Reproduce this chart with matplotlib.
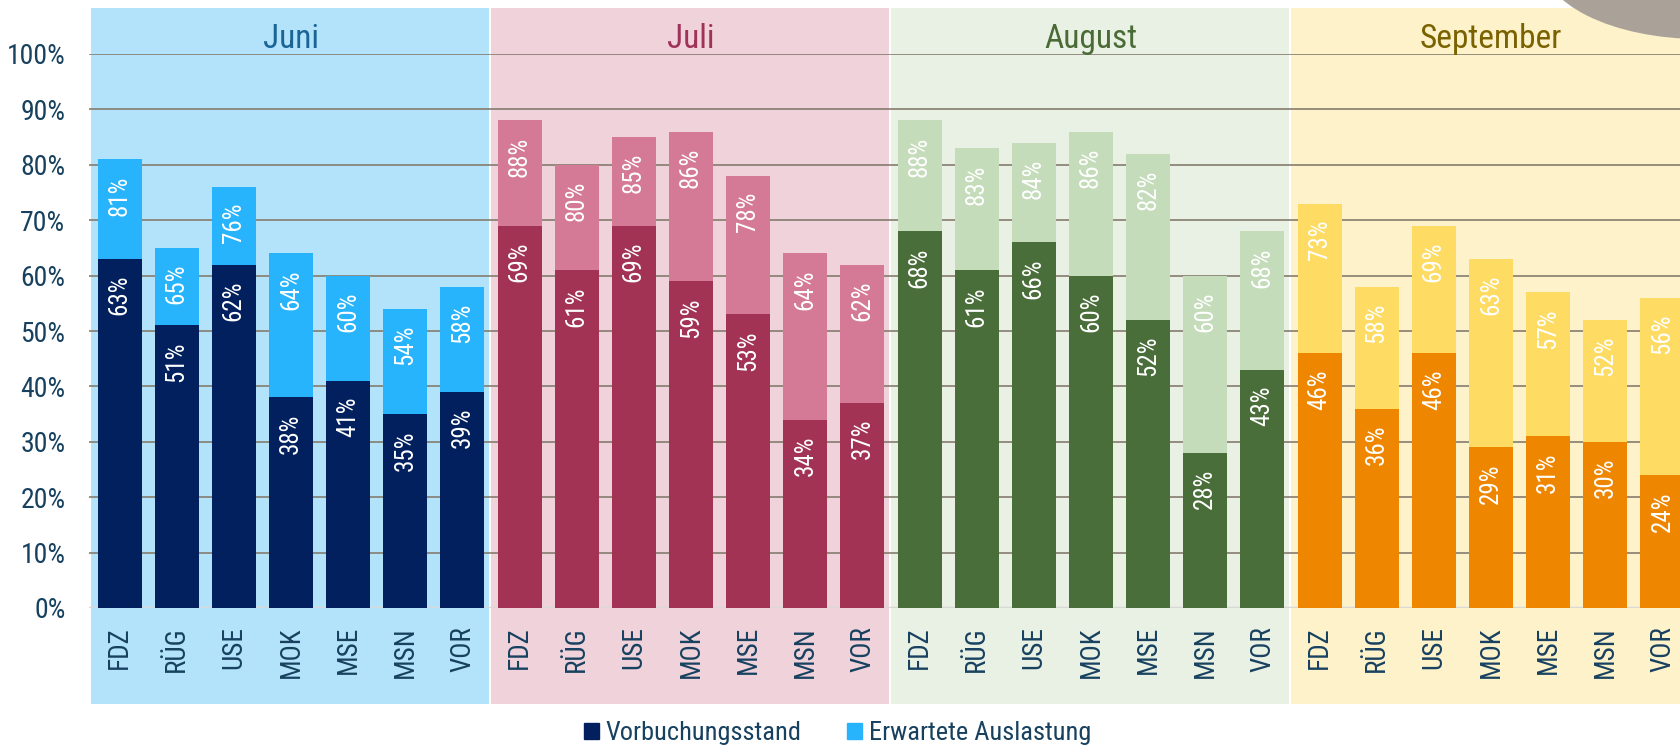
import matplotlib.pyplot as plt
from matplotlib.patches import Rectangle, Ellipse, Patch
import numpy as np

plt.rcParams['font.family'] = ['Roboto Condensed', 'Roboto', 'DejaVu Sans']

# --- data
months = ["Juni", "Juli", "August", "September"]
stations = ["FDZ", "RÜG", "USE", "MOK", "MSE", "MSN", "VOR"]

juni_vor = [63, 51, 62, 38, 41, 35, 39]
juni_erw = [81, 65, 76, 64, 60, 54, 58]
juli_vor = [69, 61, 69, 59, 53, 34, 37]
juli_erw = [88, 80, 85, 86, 78, 64, 62]
aug_vor = [68, 61, 66, 60, 52, 28, 43]
aug_erw = [88, 83, 84, 86, 82, 60, 68]
sep_vor = [46, 36, 46, 29, 31, 30, 24]
sep_erw = [73, 58, 69, 63, 57, 52, 56]

vorbuchung = [juni_vor, juli_vor, aug_vor, sep_vor]
erwartet = [juni_erw, juli_erw, aug_erw, sep_erw]

# colours per month: background, dark bar, light bar, title
bg_colors = ["#b3e3fb", "#f0d2da", "#e9f0e4", "#fef2cb"]
dark_colors = ["#03205e", "#a23354", "#4a6e3a", "#ef8600"]
light_colors = ["#27b4fc", "#d47a96", "#c5dcbb", "#fedb62"]
title_colors = ["#1a6496", "#a0325a", "#4a6b35", "#7a6200"]
text_col = "#17415f"

fig = plt.figure(figsize=(16.8, 7.49), dpi=100)
ax = fig.add_axes([89 / 1680, 141 / 749, 1591 / 1680, 554 / 749])
ax.set_facecolor("none")

pitch = 400 / 7
ax.set_xlim(-0.5 - 2 / pitch, -0.5 + 1589 / pitch)
ax.set_ylim(0, 1.0)

bw = 0.77
trans = ax.get_xaxis_transform()
for m in range(4):
    x0 = 7 * m - 0.5
    ax.add_patch(Rectangle((x0, -0.1733), 398 / pitch, 1.2563, transform=trans,
                           facecolor=bg_colors[m], edgecolor="none", zorder=0.1,
                           clip_on=False))
    ax.text(7 * m + 3, 1.0108, months[m], transform=trans, ha="center",
            va="baseline", fontsize=24, color=title_colors[m])

    x = np.arange(7) + 7 * m
    v = np.array(vorbuchung[m]) / 100
    e = np.array(erwartet[m]) / 100
    ax.bar(x, v, bw, color=dark_colors[m], zorder=2)
    ax.bar(x, e - v, bw, bottom=v, color=light_colors[m], zorder=2)
    for xi, vi, ei in zip(x, v, e):
        for val in (vi, ei):
            ax.annotate(f"{round(val * 100)}%", (xi, val), xytext=(0, -11.5),
                        textcoords="offset points", rotation=90, ha="center",
                        va="top", color="white", fontsize=18, zorder=3)

ax.set_axisbelow(True)
ax.yaxis.grid(True, color="#857c6e", linewidth=1.2)
ax.axhline(0, color="#d9d9d9", linewidth=2.5, zorder=1.5)

ax.set_yticks(np.arange(0, 1.01, 0.1))
ax.set_yticklabels([f"{t}%" for t in range(0, 101, 10)])
ax.set_xticks(np.arange(28))
ax.set_xticklabels(stations * 4, rotation=90)
ax.tick_params(axis="y", length=0, pad=17, labelsize=20, labelcolor=text_col)
ax.tick_params(axis="x", length=0, pad=13, labelsize=19.5, labelcolor=text_col)
for s in ax.spines.values():
    s.set_visible(False)

handles = [Patch(color=dark_colors[0], label="Vorbuchungsstand"),
           Patch(color=light_colors[0], label="Erwartete Auslastung")]
leg = fig.legend(handles=handles, loc="center", bbox_to_anchor=(0.4985, 16 / 749),
                 ncol=2, frameon=False, fontsize=19, handlelength=0.57,
                 handleheight=0.57, handletextpad=0.25, columnspacing=1.75)
for t in leg.get_texts():
    t.set_color(text_col)

# grey blob in the top right corner
fig.patches.append(Ellipse((1700 / 1680, 1 + 40 / 749), 318 / 1680, 158 / 749,
                           transform=fig.transFigure, facecolor="#aaa298",
                           edgecolor="none", zorder=10))

fig.savefig("out.png", dpi=100)
